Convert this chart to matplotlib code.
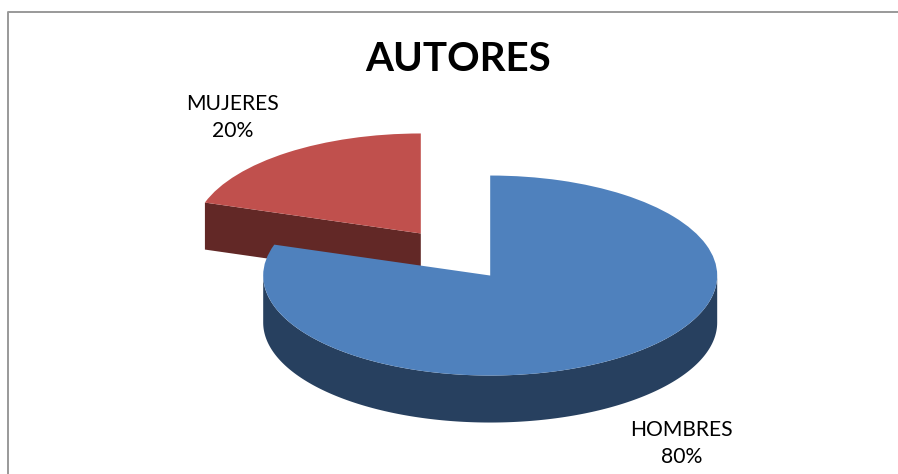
# coding: utf-8

import numpy as np
import matplotlib
matplotlib.use("Agg")
import matplotlib.pyplot as plt
from matplotlib.lines import Line2D

title = "AUTORES"
categories = ["HOMBRES", "MUJERES"]
values = [80, 20]
top_colors = ["#4F81BD", "#C0504D"]
side_colors = ["#27405F", "#622826"]

W, H = 898, 474
RX, RY = 227.0, 100.0   # pixels per data unit: squashes the pie to an ellipse
CX, CY = 455.5, 254.5
DEPTH = 47.0 / RY


def px(x, y):
    return x / W, 1 - y / H


plt.rcParams["font.family"] = ["Lato", "DejaVu Sans"]

fig = plt.figure(figsize=(W / 100, H / 100), dpi=100)
ax = fig.add_axes([0, 0, 1, 1])

wedges, _ = ax.pie(values, colors=top_colors, startangle=90, counterclock=False,
                   explode=[0.26, 0.26], radius=1, center=(0, 0))
ax.set_aspect("auto")
ax.set_xlim(-CX / RX, (W - CX) / RX)
ax.set_ylim(-(H - CY) / RY, CY / RY)
ax.axis("off")

# red goes behind blue
wedges[1].set_zorder(3)
wedges[0].set_zorder(5)

# side walls, taken from the geometry of the wedges
blue = wedges[0]
cx, cy = blue.center
lo = max(blue.theta1, -180)
hi = min(blue.theta2, 0)
t = np.radians(np.linspace(lo, hi, 200))
xs = cx + blue.r * np.cos(t)
ys = cy + blue.r * np.sin(t)
ax.fill(np.r_[xs, xs[::-1]], np.r_[ys, ys[::-1] - DEPTH],
        color=side_colors[0], lw=0, zorder=4)

red = wedges[1]
cx, cy = red.center
a = np.radians(red.theta2)
xs = np.array([cx + red.r * np.cos(a), cx])
ys = np.array([cy + red.r * np.sin(a), cy])
ax.fill(np.r_[xs, xs[::-1]], np.r_[ys, ys[::-1] - DEPTH],
        color=side_colors[1], lw=0, zorder=2)

# chart frame, runs off the right and bottom of the picture
fig.add_artist(Line2D([7.5 / W, 7.5 / W, 1], [0, 1 - 12 / H, 1 - 12 / H],
                      color="#999999", lw=1.4))

x, y = px(458, 59.5)
fig.text(x, y, title, fontsize=29, fontweight="bold", ha="center", va="center", color="black")

total = sum(values)
label_pos = [(681.5, 443.5), (233, 117.5)]
for name, v, pos in zip(categories, values, label_pos):
    x, y = px(*pos)
    fig.text(x, y, "%s\n%d%%" % (name, round(100 * v / total)), fontsize=15.2,
             ha="center", va="center", linespacing=1.4, color="black")

fig.savefig("out.png", dpi=100)
plt.close(fig)
